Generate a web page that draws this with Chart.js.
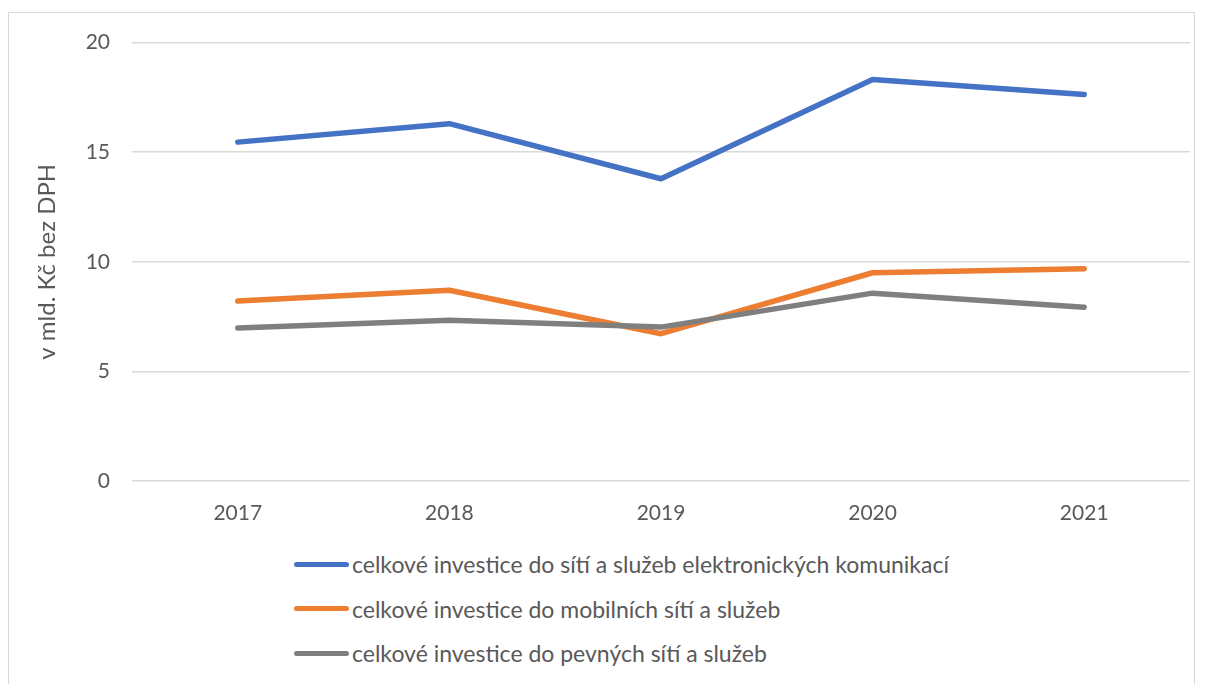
<!DOCTYPE html>
<html>
<head>
<meta charset="utf-8">
<script src="https://cdn.jsdelivr.net/npm/chart.js@4/dist/chart.umd.min.js"></script>
<style>
body{margin:0;background:#fff;font-family:Lato, "Noto Sans", sans-serif;}
#frame{position:absolute;left:8px;top:12px;width:1187px;height:690px;border:1.5px solid #d9d9d9;box-sizing:border-box;}
#wrap{position:absolute;left:0;top:-5px;width:1187px;height:524px;}
#legend{position:absolute;left:285px;top:529px;color:#595959;font-size:23px;}
.row{display:flex;align-items:center;height:44.5px;}
.mark{width:55px;height:5px;border-radius:3px;margin-right:3px;}
</style>
</head>
<body>
<div id="frame">
  <div id="wrap"><canvas id="c"></canvas></div>
  <div id="legend"></div>
</div>
<script>
const years = ['2017', '2018', '2019', '2020', '2021'];
const celkem = [15.46, 16.30, 13.79, 18.32, 17.63];
const mobilni = [8.21, 8.70, 6.72, 9.50, 9.68];
const pevne = [6.98, 7.33, 7.02, 8.57, 7.93];
const names = [
    'celkové investice do sítí a služeb elektronických komunikací',
    'celkové investice do mobilních sítí a služeb',
    'celkové investice do pevných sítí a služeb'
];
const colors = ['#4472C4', '#ED7D31', '#7F7F7F'];

const ctx = document.getElementById('c').getContext('2d');
const chart = new Chart(ctx, {
    type: 'line',
    data: {
        labels: years,
        datasets: [
            {label: names[0], data: celkem, borderColor: colors[0], backgroundColor: colors[0], order: 2},
            {label: names[1], data: mobilni, borderColor: colors[1], backgroundColor: colors[1], order: 1},
            {label: names[2], data: pevne, borderColor: colors[2], backgroundColor: colors[2], order: 0}
        ]
    },
    options: {
        responsive: true,
        maintainAspectRatio: false,
        animation: false,
        elements: {
            line: {borderWidth: 5.5, tension: 0, borderCapStyle: 'round', borderJoinStyle: 'round'},
            point: {radius: 0}
        },
        layout: {padding: {top: 26, right: 6, left: 0, bottom: 0}},
        plugins: {legend: {display: false}, tooltip: {enabled: false}},
        scales: {
            x: {
                offset: true,
                grid: {display: false, drawTicks: false},
                border: {display: false},
                ticks: {color: '#595959', font: {family: 'Lato', size: 21}, padding: 20},
                afterFit: s => { s.height = 51; }
            },
            y: {
                min: 0,
                max: 20,
                ticks: {stepSize: 5, color: '#595959', font: {family: 'Lato', size: 21}, padding: 22},
                grid: {color: '#d9d9d9', lineWidth: 1.5, drawTicks: false},
                border: {display: false},
                title: {display: true, text: 'v mld. Kč bez DPH', color: '#595959', font: {family: 'Lato', size: 24}, padding: {top: 24, bottom: 0}},
                afterFit: s => { s.width = 123; }
            }
        }
    }
});

// legenda pod grafem
document.querySelector('#legend').innerHTML = chart.data.datasets.map((d) => `
    <div class="row"><span class="mark" style="background:${d.borderColor}"></span>${d.label}</div>
`).join('');
</script>
</body>
</html>
